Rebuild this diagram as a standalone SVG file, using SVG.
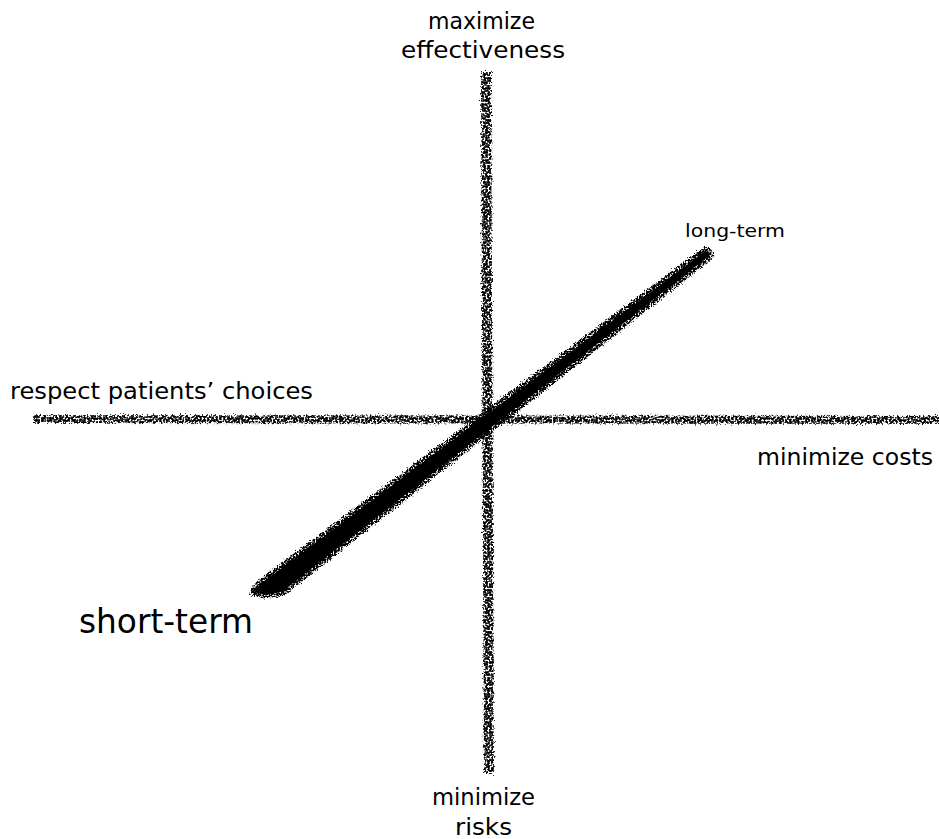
<svg xmlns="http://www.w3.org/2000/svg" width="939" height="839" viewBox="0 0 939 839">
  <style>
    text { font-family: "DejaVu Sans", "Noto Sans", sans-serif; fill: #000; }
    .lbl { font-size: 23px; }
    .sm { font-size: 18px; }
    .lg { font-size: 33px; }
    .axis { stroke: #000; fill: none; filter: url(#rough); }
    .diag { fill: #000; filter: url(#rough2); }
  </style>
  <defs>
    <filter id="rough" filterUnits="userSpaceOnUse" x="0" y="0" width="939" height="839">
      <feTurbulence type="fractalNoise" baseFrequency="0.6" numOctaves="2" seed="4" result="n"/>
      <feDisplacementMap in="SourceGraphic" in2="n" scale="6" xChannelSelector="R" yChannelSelector="G" result="d"/>
      <feTurbulence type="fractalNoise" baseFrequency="0.5" numOctaves="1" seed="9" result="n2"/>
      <feColorMatrix in="n2" type="matrix" values="0 0 0 0 0  0 0 0 0 0  0 0 0 0 0  6 0 0 0 -2.2" result="m"/>
      <feComposite in="d" in2="m" operator="in"/>
    </filter>
    <filter id="rough2" filterUnits="userSpaceOnUse" x="0" y="0" width="939" height="839">
      <feTurbulence type="fractalNoise" baseFrequency="0.7" numOctaves="2" seed="7" result="n"/>
      <feDisplacementMap in="SourceGraphic" in2="n" scale="7" xChannelSelector="R" yChannelSelector="G" result="d"/>
      <feTurbulence type="fractalNoise" baseFrequency="0.6" numOctaves="1" seed="2" result="n2"/>
      <feColorMatrix in="n2" type="matrix" values="0 0 0 0 0  0 0 0 0 0  0 0 0 0 0  6 0 0 0 -2.0" result="m"/>
      <feComposite in="d" in2="m" operator="in" result="speck"/>
      <feMorphology in="SourceGraphic" operator="erode" radius="2.5" result="core"/>
      <feMerge>
        <feMergeNode in="speck"/>
        <feMergeNode in="core"/>
      </feMerge>
    </filter>
  </defs>

  <g id="connectors">
    <line id="axis-vertical" stroke-width="10" class="axis" x1="486" y1="72" x2="489" y2="774"/>
    <line id="axis-horizontal" stroke-width="8" class="axis" x1="34" y1="419" x2="939" y2="420"/>
    <path id="axis-diagonal" class="diag" d="M 249 594 Q 252 584 264 576 L 704 247 Q 715 248 713 258 L 286 594 Q 264 601 249 594 Z"/>
  </g>

  <g id="node-top">
    <text class="lbl" x="428" y="29" textLength="107" lengthAdjust="spacingAndGlyphs">maximize</text>
    <text class="lbl" x="401" y="58" textLength="164" lengthAdjust="spacingAndGlyphs">effectiveness</text>
  </g>
  <g id="node-long-term">
    <text class="sm" x="685" y="237" textLength="100" lengthAdjust="spacingAndGlyphs">long-term</text>
  </g>
  <g id="node-left">
    <text class="lbl" x="10" y="399" textLength="303" lengthAdjust="spacingAndGlyphs">respect patients’ choices</text>
  </g>
  <g id="node-right">
    <text class="lbl" x="757" y="465" textLength="176" lengthAdjust="spacingAndGlyphs">minimize costs</text>
  </g>
  <g id="node-short-term">
    <text class="lg" x="79" y="633" textLength="174" lengthAdjust="spacingAndGlyphs">short-term</text>
  </g>
  <g id="node-bottom">
    <text class="lbl" x="432" y="805" textLength="103" lengthAdjust="spacingAndGlyphs">minimize</text>
    <text class="lbl" x="455" y="835" textLength="57" lengthAdjust="spacingAndGlyphs">risks</text>
  </g>
</svg>
